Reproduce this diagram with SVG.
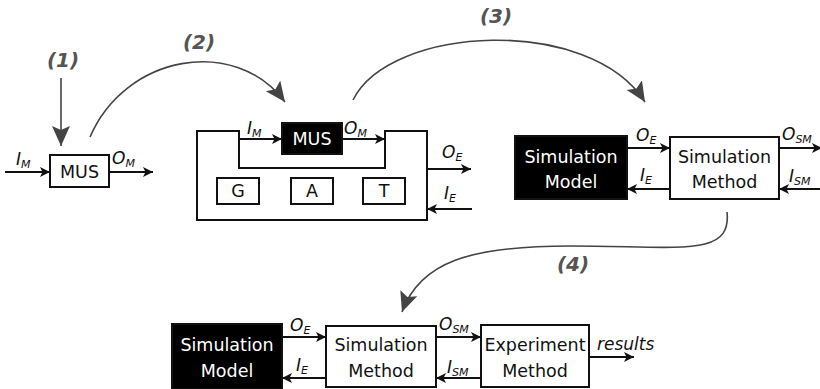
<svg xmlns="http://www.w3.org/2000/svg" width="820" height="389" viewBox="0 0 820 389">
<defs>
<style>
.box{fill:#fff;stroke:#111;stroke-width:2}
.blk{fill:#000;stroke:#111;stroke-width:2}
.ln{fill:none;stroke:#111;stroke-width:2}
.cv{fill:none;stroke:#444;stroke-width:1.6}
.t{font-family:"DejaVu Sans",sans-serif;font-size:17.5px;fill:#111;text-anchor:middle}
.tw{font-family:"DejaVu Sans",sans-serif;font-size:17.5px;fill:#fff;text-anchor:middle}
.io{font-family:"DejaVu Sans",sans-serif;font-size:17px;font-style:italic;fill:#111}
.sub{font-size:11px}
.step{font-family:"DejaVu Sans",sans-serif;font-size:20px;font-weight:bold;font-style:italic;fill:#555;text-anchor:middle}
</style>
<marker id="a" markerUnits="userSpaceOnUse" markerWidth="12" markerHeight="10" refX="10" refY="5" orient="auto"><path d="M0,0 L10,5 L0,10 L2.5,5 Z" fill="#111"/></marker>
<marker id="g" markerUnits="userSpaceOnUse" markerWidth="22" markerHeight="20" refX="20" refY="9" orient="auto"><path d="M0,0 L20,9 L0,18 L4,9 Z" fill="#444"/></marker>
</defs>
<rect width="820" height="389" fill="#fff"/>

<g id="connectors">
<line class="cv" x1="61" y1="78" x2="61" y2="146" marker-end="url(#g)" stroke-width="2"/>
<path class="cv" d="M90,137 C125,55 235,35 285,102" marker-end="url(#g)"/>
<path class="cv" d="M353,100 C390,25 590,15 645,102" marker-end="url(#g)"/>
<path class="cv" d="M727,212 C732,258 680,246 570,246 C470,246 420,262 402,312" marker-end="url(#g)"/>
<line class="ln" x1="5" y1="172" x2="50" y2="172" marker-end="url(#a)"/>
<line class="ln" x1="109" y1="172" x2="153" y2="172" marker-end="url(#a)"/>
<line class="ln" x1="239" y1="139" x2="282" y2="139" marker-end="url(#a)"/>
<line class="ln" x1="342" y1="139" x2="385" y2="139" marker-end="url(#a)"/>
<line class="ln" x1="427" y1="169" x2="471" y2="169" marker-end="url(#a)"/>
<line class="ln" x1="472" y1="209" x2="427" y2="209" marker-end="url(#a)"/>
<line class="ln" x1="627" y1="148" x2="670" y2="148" marker-end="url(#a)"/>
<line class="ln" x1="670" y1="189" x2="627" y2="189" marker-end="url(#a)"/>
<line class="ln" x1="779" y1="148" x2="822" y2="148" marker-end="url(#a)"/>
<line class="ln" x1="822" y1="189" x2="779" y2="189" marker-end="url(#a)"/>
<line class="ln" x1="282" y1="337" x2="326" y2="337" marker-end="url(#a)"/>
<line class="ln" x1="326" y1="378" x2="282" y2="378" marker-end="url(#a)"/>
<line class="ln" x1="436" y1="337" x2="481" y2="337" marker-end="url(#a)"/>
<line class="ln" x1="481" y1="378" x2="436" y2="378" marker-end="url(#a)"/>
<line class="ln" x1="589" y1="357" x2="634" y2="357" marker-end="url(#a)"/>
</g>

<g id="labels">
<text class="step" x="63" y="67">(1)</text>
<text class="step" x="199" y="49">(2)</text>
<text class="step" x="496" y="23">(3)</text>
<text class="step" x="573" y="271">(4)</text>
<text class="io" x="16" y="165">I<tspan class="sub" dy="3">M</tspan></text>
<text class="io" x="112" y="164">O<tspan class="sub" dy="3">M</tspan></text>
<text class="io" x="247" y="134">I<tspan class="sub" dy="3">M</tspan></text>
<text class="io" x="344" y="134">O<tspan class="sub" dy="3">M</tspan></text>
<text class="io" x="442" y="158">O<tspan class="sub" dy="3">E</tspan></text>
<text class="io" x="444" y="199">I<tspan class="sub" dy="3">E</tspan></text>
<text class="io" x="636" y="141">O<tspan class="sub" dy="3">E</tspan></text>
<text class="io" x="640" y="181">I<tspan class="sub" dy="3">E</tspan></text>
<text class="io" x="782" y="140">O<tspan class="sub" dy="3">SM</tspan></text>
<text class="io" x="789" y="182">I<tspan class="sub" dy="3">SM</tspan></text>
<text class="io" x="290" y="331">O<tspan class="sub" dy="3">E</tspan></text>
<text class="io" x="296" y="371">I<tspan class="sub" dy="3">E</tspan></text>
<text class="io" x="439" y="330">O<tspan class="sub" dy="3">SM</tspan></text>
<text class="io" x="447" y="373">I<tspan class="sub" dy="3">SM</tspan></text>
<text class="io" x="597" y="350">results</text>
</g>

<g id="mus1">
<rect class="box" x="50" y="155" width="59" height="32"/>
<text class="t" x="79.5" y="178">MUS</text>
</g>

<g id="experiment-frame">
<path class="ln" d="M197,131 H239 V168 H385 V131 H427 V220 H197 Z"/>
</g>
<g id="mus2">
<rect class="blk" x="282" y="123" width="60" height="31"/>
<text class="tw" x="312" y="145">MUS</text>
</g>
<g id="g-box"><rect class="box" x="217" y="178" width="42" height="26"/><text class="t" x="238" y="197">G</text></g>
<g id="a-box"><rect class="box" x="291" y="178" width="42" height="26"/><text class="t" x="312" y="197">A</text></g>
<g id="t-box"><rect class="box" x="363" y="178" width="42" height="26"/><text class="t" x="384" y="197">T</text></g>

<g id="sim-model-1">
<rect class="blk" x="515" y="136" width="112" height="63"/>
<text class="tw" x="571" y="163">Simulation</text>
<text class="tw" x="571" y="188">Model</text>
</g>
<g id="sim-method-1">
<rect class="box" x="670" y="137" width="109" height="62"/>
<text class="t" x="724.5" y="163">Simulation</text>
<text class="t" x="724.5" y="188">Method</text>
</g>

<g id="sim-model-2">
<rect class="blk" x="172" y="324" width="110" height="65"/>
<text class="tw" x="227" y="351">Simulation</text>
<text class="tw" x="227" y="377">Model</text>
</g>
<g id="sim-method-2">
<rect class="box" x="326" y="326" width="110" height="61"/>
<text class="t" x="381" y="351">Simulation</text>
<text class="t" x="381" y="377">Method</text>
</g>
<g id="experiment-method">
<rect class="box" x="481" y="325" width="108" height="62"/>
<text class="t" x="535" y="351">Experiment</text>
<text class="t" x="535" y="377">Method</text>
</g>
</svg>
